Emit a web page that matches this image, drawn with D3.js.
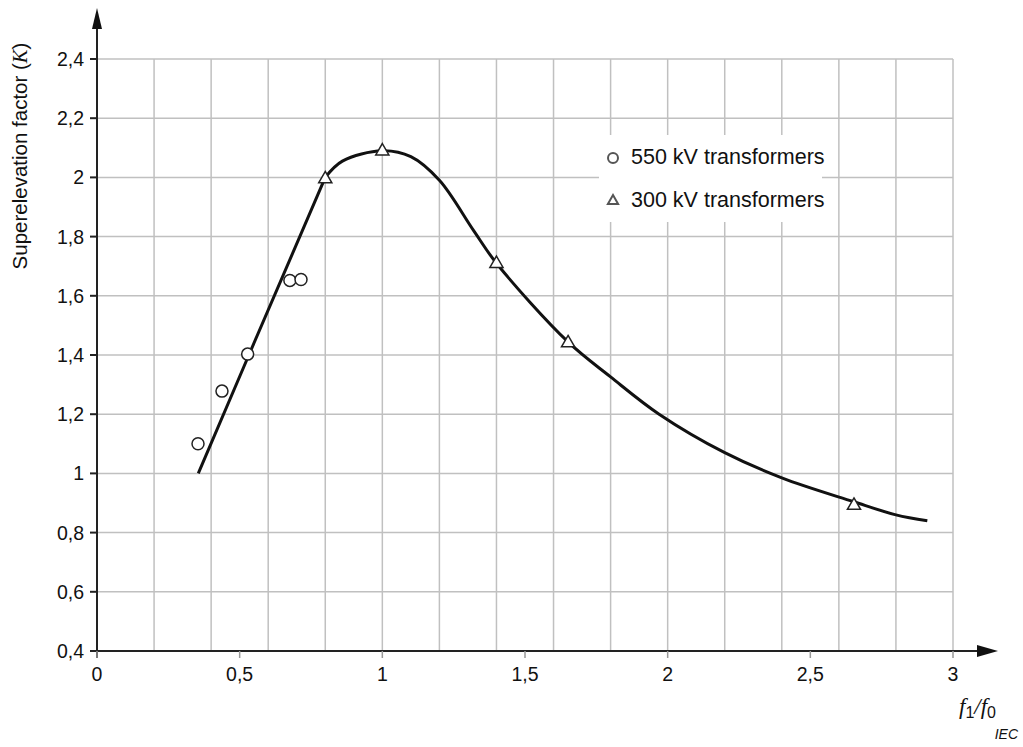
<!DOCTYPE html>
<html>
<head>
<meta charset="utf-8">
<script src="https://cdn.jsdelivr.net/npm/d3@7"></script>
<style>
  body { margin: 0; background: #fff; }
  text { font-family: "Liberation Sans", Arial, sans-serif; fill: #111; }
</style>
</head>
<body>
<script>
// ---------------- data
var curveX = [0.355, 0.53, 0.8, 0.86, 1.0, 1.1, 1.2, 1.32, 1.4, 1.65, 1.8, 1.97, 2.2, 2.4, 2.65, 2.8, 2.91];
var curveY = [1.0, 1.395, 2.0, 2.055, 2.09, 2.07, 1.99, 1.82, 1.71, 1.445, 1.326, 1.2, 1.07, 0.985, 0.905, 0.86, 0.84];
var kv550X = [0.354, 0.438, 0.528, 0.676, 0.715];
var kv550Y = [1.10, 1.278, 1.403, 1.652, 1.655];
var kv300X = [0.8, 1.0, 1.4, 1.651, 2.653];
var kv300Y = [1.998, 2.092, 1.712, 1.444, 0.895];
var xTicks = [0, 0.5, 1, 1.5, 2, 2.5, 3];
var yTicks = [0.4, 0.6, 0.8, 1, 1.2, 1.4, 1.6, 1.8, 2, 2.2, 2.4];
var legendLabels = ["550 kV transformers", "300 kV transformers"];
//----------------------------------

var ancho = 1023, alto = 747;
var x = d3.scaleLinear().domain([0, 3]).range([97, 953]);
var y = d3.scaleLinear().domain([0.4, 2.4]).range([651, 59]);
var fmt = function (v) { return String(v).replace(".", ","); };

var svg = d3.select("body").append("svg")
    .attr("width", ancho)
    .attr("height", alto);

// grid
var gridG = svg.append("g").attr("stroke", "#c0c0c0").attr("stroke-width", 1.5);
gridG.selectAll("line.v")
    .data(d3.range(1, 16).map(function (i) { return i * 0.2; }))
    .enter().append("line")
    .attr("x1", function (d) { return x(d); })
    .attr("x2", function (d) { return x(d); })
    .attr("y1", y(0.4)).attr("y2", y(2.4));
gridG.selectAll("line.h")
    .data(yTicks.slice(1))
    .enter().append("line")
    .attr("x1", x(0)).attr("x2", x(3))
    .attr("y1", function (d) { return y(d); })
    .attr("y2", function (d) { return y(d); });

// legend background hides the grid
svg.append("rect")
    .attr("x", 599).attr("y", 135)
    .attr("width", 223).attr("height", 87)
    .attr("fill", "#fff");

// axes
var axisG = svg.append("g").attr("stroke", "#222").attr("stroke-width", 2);
axisG.append("line").attr("x1", x(0)).attr("x2", x(0)).attr("y1", y(0.4) + 7).attr("y2", 26);
axisG.append("line").attr("x1", x(0) - 7).attr("x2", 980).attr("y1", y(0.4)).attr("y2", y(0.4));
axisG.selectAll("line.ty")
    .data(yTicks)
    .enter().append("line")
    .attr("x1", x(0) - 7).attr("x2", x(0))
    .attr("y1", function (d) { return y(d); })
    .attr("y2", function (d) { return y(d); });
svg.append("g").attr("stroke", "#999").attr("stroke-width", 1.5)
    .selectAll("line")
    .data(xTicks)
    .enter().append("line")
    .attr("x1", function (d) { return x(d); })
    .attr("x2", function (d) { return x(d); })
    .attr("y1", y(0.4)).attr("y2", y(0.4) + 7);
svg.append("path")
    .attr("d", "M" + x(0) + ",8 L" + (x(0) - 5) + ",29 L" + (x(0) + 5) + ",29 Z")
    .attr("fill", "#111");
svg.append("path")
    .attr("d", "M998," + y(0.4) + " L977," + (y(0.4) - 6) + " L977," + (y(0.4) + 6) + " Z")
    .attr("fill", "#111");

// tick labels
svg.selectAll("text.yt")
    .data(yTicks)
    .enter().append("text")
    .attr("x", 84)
    .attr("y", function (d) { return y(d) + 7; })
    .attr("text-anchor", "end")
    .style("font-size", "19.5px")
    .text(fmt);
svg.selectAll("text.xt")
    .data(xTicks)
    .enter().append("text")
    .attr("x", function (d) { return x(d); })
    .attr("y", 681)
    .attr("text-anchor", "middle")
    .style("font-size", "19.5px")
    .text(fmt);

// axis titles
var yl = svg.append("text")
    .attr("transform", "translate(27,156) rotate(-90)")
    .attr("text-anchor", "middle")
    .style("font-size", "20.5px");
yl.append("tspan").text("Superelevation factor  (");
yl.append("tspan").style("font-family", "'Liberation Serif', serif").style("font-style", "italic").text("K");
yl.append("tspan").text(")");

var xl = svg.append("text")
    .attr("x", 959).attr("y", 714)
    .style("font-family", "'Liberation Serif', serif")
    .style("font-style", "italic")
    .style("font-size", "23px");
xl.append("tspan").text("f");
xl.append("tspan").style("font-style", "normal").style("font-family", "'Liberation Sans', sans-serif").style("font-size", "16px").attr("dy", 4).text("1");
xl.append("tspan").attr("dy", -4).text("/f");
xl.append("tspan").style("font-style", "normal").style("font-family", "'Liberation Sans', sans-serif").style("font-size", "16px").attr("dy", 4).text("0");

svg.append("text")
    .attr("x", 1018).attr("y", 739)
    .attr("text-anchor", "end")
    .style("font-size", "14px")
    .style("font-style", "italic")
    .text("IEC");

// curve: straight rise up to f1/f0 = 0.8, smooth afterwards
var pts = curveX.map(function (v, i) { return [v, curveY[i]]; });
var line = d3.line()
    .x(function (d) { return x(d[0]); })
    .y(function (d) { return y(d[1]); });
svg.append("path")
    .datum(pts.filter(function (d) { return d[0] <= 0.8; }))
    .attr("fill", "none")
    .attr("stroke", "#111")
    .attr("stroke-width", 3)
    .attr("d", line.curve(d3.curveLinear));
svg.append("path")
    .datum(pts.filter(function (d) { return d[0] >= 0.8; }))
    .attr("fill", "none")
    .attr("stroke", "#111")
    .attr("stroke-width", 3)
    .attr("d", line.curve(d3.curveCatmullRom.alpha(0.5)));

// markers
var tri = d3.symbol().type(d3.symbolTriangle);
svg.selectAll("circle.kv550")
    .data(kv550X)
    .enter().append("circle")
    .attr("cx", function (d) { return x(d); })
    .attr("cy", function (d, i) { return y(kv550Y[i]); })
    .attr("r", 6)
    .attr("fill", "#fff")
    .attr("stroke", "#222")
    .attr("stroke-width", 1.5);
svg.selectAll("path.kv300")
    .data(kv300X)
    .enter().append("path")
    .attr("transform", function (d, i) { return "translate(" + x(d) + "," + (y(kv300Y[i]) + 1) + ")"; })
    .attr("d", tri.size(75))
    .attr("fill", "#fff")
    .attr("stroke", "#222")
    .attr("stroke-width", 1.5);

// legend
svg.append("circle")
    .attr("cx", 613).attr("cy", 158).attr("r", 5)
    .attr("fill", "#fff").attr("stroke", "#555").attr("stroke-width", 2);
svg.append("path")
    .attr("transform", "translate(613,201)")
    .attr("d", tri.size(45))
    .attr("fill", "#fff").attr("stroke", "#555").attr("stroke-width", 2);
svg.selectAll("text.lg")
    .data(legendLabels)
    .enter().append("text")
    .attr("x", 631)
    .attr("y", function (d, i) { return 164 + i * 43; })
    .style("font-size", "21.5px")
    .text(function (d) { return d; });
</script>
</body>
</html>
